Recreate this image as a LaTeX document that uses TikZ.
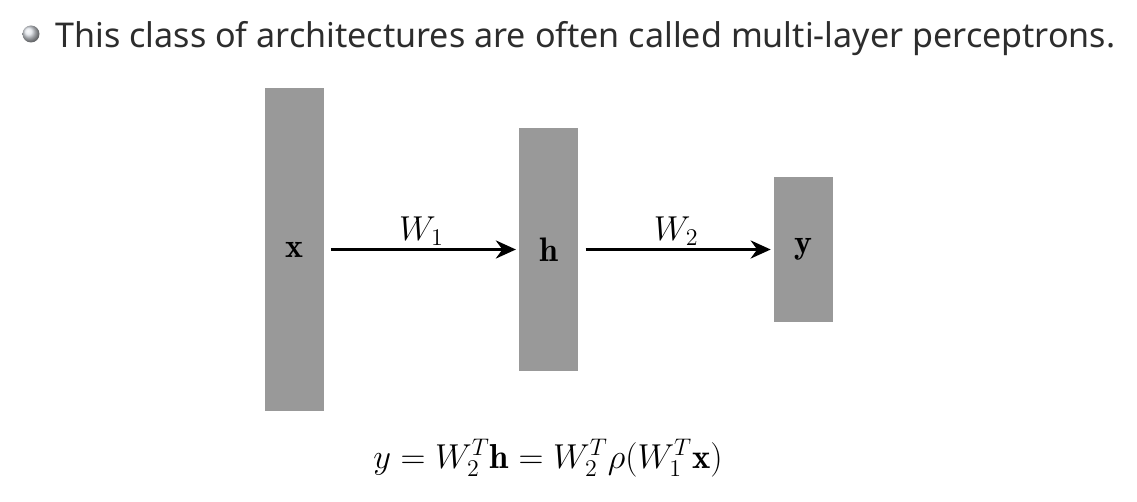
\documentclass[tikz,border=0pt]{standalone}
\usepackage{fontspec}
\usepackage{amsmath}
\usepackage{xcolor}
\usepackage{tikz}
\usetikzlibrary{arrows.meta, positioning}
\newfontfamily\slidefont{Noto Sans}
\definecolor{LayerGray}{RGB}{153, 153, 153}
\definecolor{BulletGray}{RGB}{222, 226, 232}
\definecolor{SlideText}{RGB}{45, 45, 45}

\begin{document}
\begin{tikzpicture}[x=0.5pt, y=-0.5pt,
    layer/.style={fill=LayerGray, draw=none, minimum width=29.5pt, inner sep=0pt,
                  font=\fontsize{17}{20}\selectfont},
    flow/.style={-{Stealth[length=10pt, width=9pt]}, line width=1.9pt, black},
    wlabel/.style={above, inner sep=1pt, font=\fontsize{17}{20}\selectfont}]
  \useasboundingbox (0,0) rectangle (1137,502);

  % bullet line
  \shade[ball color=BulletGray] (31,34) circle (8.5);
  \node[anchor=base west, inner sep=0pt, text=SlideText] (title) at (55,48)
    {\slidefont\fontsize{17.05}{20}\selectfont This class of architectures are often called multi-layer perceptrons.};

  % layers
  \node[layer, minimum height=161.5pt] (x) at (294,249.5) {$\mathbf{x}$};
  \node[layer, minimum height=121.5pt, right=97.5pt of x] (h) {$\mathbf{h}$};
  \node[layer, minimum height=72.5pt, right=97.5pt of h] (y) {$\mathbf{y}$};

  \draw[flow, shorten <=3.5pt, shorten >=1.5pt] (x.east) -- node[wlabel] {$W_1$} (h.west);
  \draw[flow, shorten <=3.5pt, shorten >=1.5pt] (h.east) -- node[wlabel] {$W_2$} (y.west);

  % formula
  \node[font=\fontsize{17.3}{20}\selectfont] (eq) at (548,458)
    {$y = W_2^T\mathbf{h} = W_2^T\rho(W_1^T\mathbf{x})$};
\end{tikzpicture}
\end{document}
